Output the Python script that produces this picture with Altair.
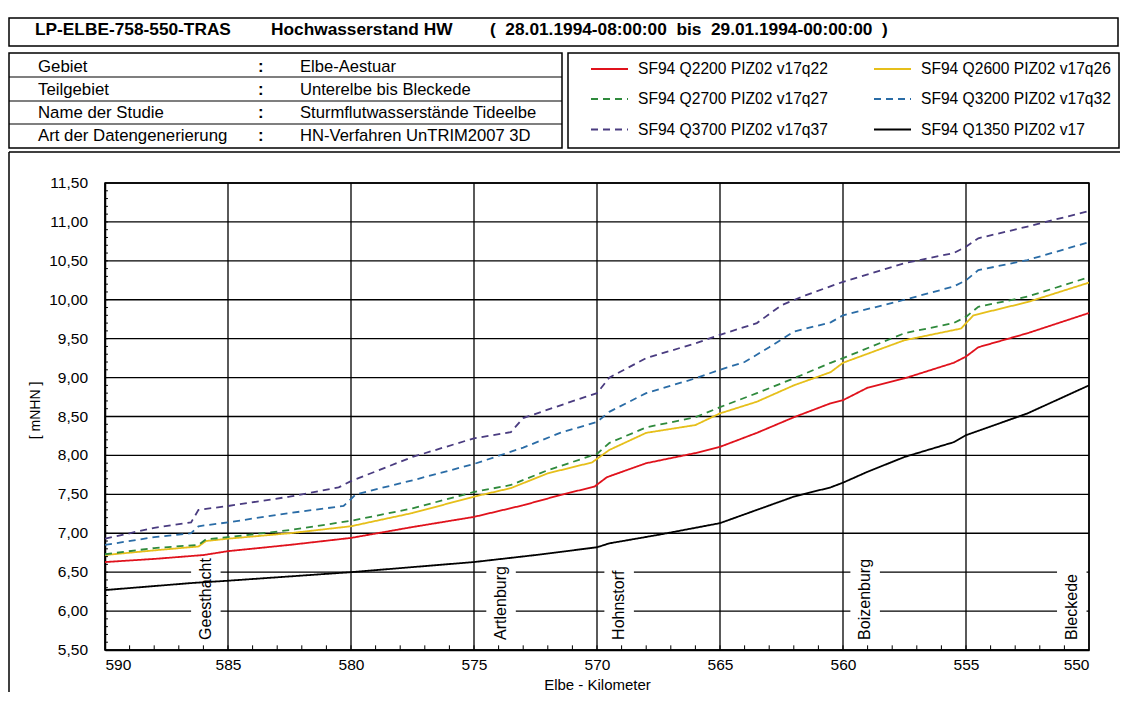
import altair as alt
import pandas as pd

FONT = "Liberation Sans"

# ---------------- data ----------------
series_names = [
    "SF94 Q2200 PIZ02 v17q22", "SF94 Q2700 PIZ02 v17q27", "SF94 Q3700 PIZ02 v17q37",
    "SF94 Q2600 PIZ02 v17q26", "SF94 Q3200 PIZ02 v17q32", "SF94 Q1350 PIZ02 v17",
]
series_colors = ["#e0121c", "#2f8a3c", "#4a3c80", "#e6bf1a", "#2a6ca6", "#000000"]
series_dash = [[1, 0], [7, 5], [7, 5], [1, 0], [7, 5], [1, 0]]

km_q2200 = [590, 588, 586, 585, 582.5, 580, 577.5, 575, 573, 571.5, 570.1, 569.6, 568, 566, 565,
            563.5, 562, 560.5, 560, 559, 557.5, 555.5, 555, 554.5, 552.5, 550]
wl_q2200 = [6.63, 6.67, 6.72, 6.77, 6.85, 6.94, 7.08, 7.21, 7.36, 7.49, 7.60, 7.72, 7.90, 8.03, 8.11,
            8.29, 8.49, 8.67, 8.71, 8.87, 8.99, 9.19, 9.27, 9.39, 9.57, 9.83]

km_q2600 = [590, 588, 586.2, 585.9, 585, 582.5, 580, 577.5, 575, 573.5, 572, 570.2, 569.5, 568, 566,
            565, 563.5, 562, 560.5, 560, 557.5, 555.2, 554.7, 552.5, 550]
wl_q2600 = [6.72, 6.78, 6.83, 6.90, 6.93, 7.00, 7.09, 7.26, 7.47, 7.58, 7.77, 7.91, 8.07, 8.29, 8.39,
            8.54, 8.69, 8.90, 9.07, 9.19, 9.48, 9.63, 9.80, 9.97, 10.22]

km_q2700 = [590, 588, 586.2, 585.9, 585, 582.5, 580, 577.5, 575, 573.5, 572, 570, 569.5, 568, 566,
            565, 563.5, 562, 560.5, 560, 557.5, 555.5, 555, 554.5, 552.5, 550]
wl_q2700 = [6.73, 6.81, 6.85, 6.92, 6.95, 7.04, 7.16, 7.32, 7.53, 7.62, 7.81, 8.02, 8.16, 8.36, 8.49,
            8.62, 8.80, 8.99, 9.19, 9.25, 9.57, 9.70, 9.78, 9.91, 10.04, 10.29]

km_q3200 = [590, 588, 586.5, 586.2, 585, 582.5, 580.3, 579.8, 577.5, 575, 573, 571.5, 570, 569.5,
            568, 566, 565, 564, 563, 562, 560.5, 560, 557.5, 555.5, 555, 554.5, 552.5, 550]
wl_q3200 = [6.85, 6.95, 7.00, 7.09, 7.14, 7.26, 7.35, 7.50, 7.68, 7.89, 8.10, 8.29, 8.43, 8.56,
            8.80, 8.99, 9.10, 9.20, 9.39, 9.59, 9.71, 9.80, 10.00, 10.17, 10.25, 10.38, 10.51, 10.74]

km_q3700 = [590, 588, 586.5, 586.2, 585, 582.5, 580.5, 580, 577.5, 575, 573.5, 573, 570.5, 570,
            569.5, 568, 566, 565, 563.5, 562.5, 561.5, 560, 557.5, 555.5, 555, 554.5, 552.5, 550]
wl_q3700 = [6.93, 7.07, 7.14, 7.30, 7.35, 7.47, 7.59, 7.67, 7.98, 8.22, 8.30, 8.48, 8.75, 8.80,
            9.00, 9.25, 9.44, 9.55, 9.70, 9.93, 10.06, 10.23, 10.47, 10.60, 10.68, 10.79, 10.94, 11.14]

km_q1350 = [590, 586.5, 585, 580, 575, 572.5, 570, 569.5, 567.5, 565, 563.5, 562, 560.5, 560, 559,
            557.5, 555.5, 555, 552.5, 550]
wl_q1350 = [6.27, 6.36, 6.39, 6.50, 6.63, 6.72, 6.82, 6.87, 6.98, 7.13, 7.30, 7.47, 7.59, 7.65, 7.79,
            7.98, 8.17, 8.26, 8.54, 8.90]

place_names = ["Geesthacht", "Artlenburg", "Hohnstorf", "Boizenburg", "Bleckede"]
place_km = [585.9, 573.9, 569.1, 559.1, 550.7]

x_ticks = [590, 585, 580, 575, 570, 565, 560, 555, 550]
y_ticks = [5.5, 6.0, 6.5, 7.0, 7.5, 8.0, 8.5, 9.0, 9.5, 10.0, 10.5, 11.0, 11.5]
x_minor = list(range(551, 590))
y_minor = [round(5.5 + 0.1 * i, 2) for i in range(1, 60)]

title_left = "LP-ELBE-758-550-TRAS"
title_mid = "Hochwasserstand HW"
title_right = "(\u00a0 28.01.1994-08:00:00 \u00a0bis \u00a029.01.1994-00:00:00 \u00a0)"
info_keys = ["Gebiet", "Teilgebiet", "Name der Studie", "Art der Datengenerierung"]
info_vals = ["Elbe-Aestuar", "Unterelbe bis Bleckede", "Sturmflutwasserstände Tideelbe",
             "HN-Verfahren UnTRIM2007 3D"]

# ---------------- tables ----------------
order_src = {
    "SF94 Q2200 PIZ02 v17q22": (km_q2200, wl_q2200),
    "SF94 Q2600 PIZ02 v17q26": (km_q2600, wl_q2600),
    "SF94 Q2700 PIZ02 v17q27": (km_q2700, wl_q2700),
    "SF94 Q3200 PIZ02 v17q32": (km_q3200, wl_q3200),
    "SF94 Q3700 PIZ02 v17q37": (km_q3700, wl_q3700),
    "SF94 Q1350 PIZ02 v17": (km_q1350, wl_q1350),
}
frames = [pd.DataFrame({"series": n, "km": k, "wl": w}) for n, (k, w) in order_src.items()]
df = pd.concat(frames, ignore_index=True)
places = pd.DataFrame({"name": place_names, "km": place_km})
one = pd.DataFrame({"k": [0]})

# ---------------- chart ----------------
xscale = alt.Scale(domain=[550, 590], reverse=True, nice=False, zero=False)
yscale = alt.Scale(domain=[5.5, 11.5], nice=False, zero=False)

xaxis = alt.Axis(values=x_ticks, title="Elbe - Kilometer", grid=False,
                 domainColor="black", domainWidth=1.5, ticks=False, labelOverlap=False,
                 labelFontSize=15.5, labelColor="black", labelPadding=7, labelFont=FONT,
                 titleFontSize=15, titleFontWeight="normal", titleColor="black",
                 titlePadding=5, titleFont=FONT)
yaxis = alt.Axis(values=y_ticks, labels=False, title="[ mNHN ]", grid=False,
                 domainColor="black", domainWidth=1.5, ticks=False,
                 titleFontSize=14, titleFontWeight="normal", titleColor="black",
                 titleX=-70, titleY=227, titleAlign="center", titleBaseline="middle",
                 titleFont=FONT)

leg = alt.Legend(orient="none", legendX=485, legendY=-134, columns=2, title=None,
                 symbolType="stroke", symbolSize=1369, symbolStrokeWidth=2,
                 labelFontSize=15.6, labelFont=FONT, labelColor="black", labelOffset=9,
                 columnPadding=42, rowPadding=1.5, padding=0, labelLimit=400)

xgrid = alt.Chart(pd.DataFrame({"km": x_ticks})).mark_rule(color="black", strokeWidth=1.3).encode(
    x=alt.X("km:Q", scale=xscale, axis=xaxis), y=alt.datum(5.5), y2=alt.datum(11.5))
ygrid = alt.Chart(pd.DataFrame({"wl": y_ticks})).mark_rule(color="black", strokeWidth=1.3).encode(
    y=alt.Y("wl:Q", scale=yscale, axis=yaxis), x=alt.datum(590), x2=alt.datum(550))

ylabels = alt.Chart(pd.DataFrame({"wl": y_ticks})).transform_calculate(
    lab="replace(format(datum.wl, '.2f'), '.', ',')"
).mark_text(align="right", baseline="middle", dx=-17, fontSize=15.5, font=FONT,
            color="black").encode(y="wl:Q", x=alt.datum(590), text="lab:N")

lines = alt.Chart(df).mark_line(strokeWidth=1.8, clip=True).encode(
    x=alt.X("km:Q", scale=xscale, axis=xaxis),
    y=alt.Y("wl:Q", scale=yscale, axis=yaxis),
    color=alt.Color("series:N", scale=alt.Scale(domain=series_names, range=series_colors),
                    legend=leg),
    strokeDash=alt.StrokeDash("series:N", scale=alt.Scale(domain=series_names, range=series_dash),
                              legend=leg),
)

label_bg = alt.Chart(places).transform_calculate(
    x0="datum.km + 0.6", x1="datum.km - 0.6"
).mark_rect(color="white").encode(
    x=alt.X("x0:Q"), x2="x1:Q", y=alt.datum(5.53), y2=alt.datum(6.8)
)

label_txt = alt.Chart(places).mark_text(
    angle=270, align="left", baseline="middle", fontSize=16, font=FONT, color="black"
).encode(x="km:Q", y=alt.datum(5.63), text="name:N")

xminor = alt.Chart(pd.DataFrame({"km": x_minor})).mark_rule(color="black", strokeWidth=1).encode(
    x="km:Q", y=alt.datum(5.5), y2=alt.datum(5.56)
)
yminor = alt.Chart(pd.DataFrame({"wl": y_minor})).mark_rule(color="black", strokeWidth=1).encode(
    y="wl:Q", x=alt.datum(590), x2=alt.datum(589.88)
)

# ---------------- header decorations (pixel positions relative to plot area) ----------------
deco = []
def box(x0, x1, y0, y1):
    return alt.Chart(one).mark_rect(fillOpacity=0, stroke="black", strokeWidth=1.5).encode(
        x=alt.value(x0), x2=alt.value(x1), y=alt.value(y0), y2=alt.value(y1))

deco.append(box(-96, 1013, -165, -137))   # title box
deco.append(box(-96, 457, -130, -35))     # info table
deco.append(box(463, 1014, -130, -35))    # legend box
for yy in [-106, -82, -59]:
    deco.append(alt.Chart(one).mark_rule(color="black", strokeWidth=1.2).encode(
        x=alt.value(-96), x2=alt.value(457), y=alt.value(yy)))
# outer frame of the plot panel
deco.append(alt.Chart(one).mark_rule(color="black", strokeWidth=1.5).encode(
    x=alt.value(-96), x2=alt.value(1015), y=alt.value(-31)))
deco.append(alt.Chart(one).mark_rule(color="black", strokeWidth=1.5).encode(
    x=alt.value(-96), y=alt.value(-31), y2=alt.value(517)))

def txt(s, x, y, weight="normal", size=16.8, lh=None):
    kw = dict(text=s, align="left", baseline="middle", fontSize=size, font=FONT,
              fontWeight=weight, color="black")
    if lh is not None:
        kw["lineHeight"] = lh
    return alt.Chart(one).mark_text(**kw).encode(x=alt.value(x), y=alt.value(y))

deco.append(txt(title_left, -70, -153, "bold", 17.3))
deco.append(txt(title_mid, 166, -153, "bold", 17.3))
deco.append(txt(title_right, 385, -153, "bold", 17.3))
deco.append(txt(info_keys, -67, -116, lh=23))
deco.append(txt([":"] * 4, 153, -116, "bold", lh=23))
deco.append(txt(info_vals, 195, -116, size=16.6, lh=23))

chart = alt.layer(xgrid, ygrid, label_bg, xminor, yminor, lines, label_txt, ylabels,
                  *deco).properties(
    width=984, height=467,
    autosize=alt.AutoSizeParams(type="none"),
    padding={"left": 97, "top": 175, "right": 31, "bottom": 42},
).configure(font=FONT).configure_view(stroke="black", strokeWidth=1.5)

chart.save("out.html", embed_options={"renderer": "svg", "actions": False})
